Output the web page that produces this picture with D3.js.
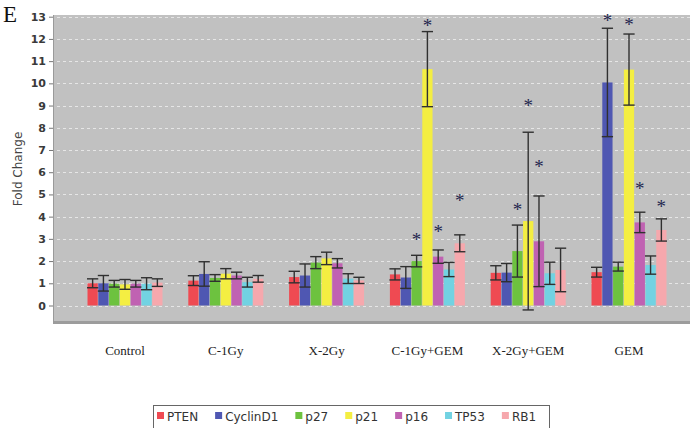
<!DOCTYPE html>
<html>
<head>
<meta charset="utf-8">
<script src="https://cdn.jsdelivr.net/npm/d3@7/dist/d3.min.js"></script>
<style>
  html, body { margin: 0; padding: 0; background: #ffffff; }
  svg { display: block; }
</style>
</head>
<body>
<svg id="chart" width="690" height="428"></svg>
<script>
// Treatment groups along the x axis
const groups = ["Control", "C-1Gy", "X-2Gy", "C-1Gy+GEM", "X-2Gy+GEM", "GEM"];
const groupLabels = ["Control", "C-1Gy", "X-2Gy", "C-1Gy+GEM", "X-2Gy+GEM", "GEM"];

// Genes (one bar per gene inside each group)
const genes = ["PTEN", "CyclinD1", "p27", "p21", "p16", "TP53", "RB1"];
const geneColors = ["#ef4a52", "#4f57b2", "#6dc23f", "#f4ee42", "#c062b2", "#72d2e2", "#f6a8ad"];

// Mean fold change per gene, in group order
const PTEN     = [1.00, 1.12, 1.28, 1.40, 1.47, 1.50];
const CyclinD1 = [1.00, 1.42, 1.35, 1.26, 1.48, 10.04];
const p27      = [0.98, 1.24, 1.93, 2.00, 2.45, 1.75];
const p21      = [0.95, 1.43, 2.12, 10.64, 3.80, 10.62];
const p16      = [0.98, 1.35, 1.90, 2.20, 2.89, 3.74];
const TP53     = [0.98, 1.05, 1.21, 1.62, 1.45, 1.82];
const RB1      = [1.03, 1.20, 1.13, 2.80, 1.60, 3.40];

// Error (± half range) per gene, in group order
const PTEN_err     = [0.20, 0.22, 0.26, 0.25, 0.32, 0.22];
const CyclinD1_err = [0.35, 0.55, 0.52, 0.49, 0.41, 2.44];
const p27_err      = [0.15, 0.15, 0.27, 0.26, 1.17, 0.20];
const p21_err      = [0.22, 0.23, 0.28, 1.69, 4.00, 1.60];
const p16_err      = [0.15, 0.15, 0.21, 0.30, 2.04, 0.46];
const TP53_err     = [0.27, 0.22, 0.22, 0.32, 0.50, 0.41];
const RB1_err      = [0.17, 0.15, 0.14, 0.38, 0.98, 0.50];

// Significance marks: group, gene, and the fold-change level of the mark
const starGroups = ["C-1Gy+GEM", "C-1Gy+GEM", "C-1Gy+GEM", "C-1Gy+GEM", "X-2Gy+GEM", "X-2Gy+GEM", "X-2Gy+GEM", "GEM", "GEM", "GEM", "GEM"];
const starGenes  = ["p27", "p21", "p16", "RB1", "p27", "p21", "p16", "CyclinD1", "p21", "p16", "RB1"];
const starLevels = [3.05, 12.67, 3.40, 4.80, 4.38, 9.08, 6.33, 12.90, 12.71, 5.35, 4.53];

// Y axis ticks
const yTicks = [0, 1, 2, 3, 4, 5, 6, 7, 8, 9, 10, 11, 12, 13];

const meansByGene = { PTEN, CyclinD1, p27, p21, p16, TP53, RB1 };
const errsByGene = { PTEN: PTEN_err, CyclinD1: CyclinD1_err, p27: p27_err, p21: p21_err, p16: p16_err, TP53: TP53_err, RB1: RB1_err };

const records = [];
groups.forEach((g, gi) => {
  genes.forEach((gene, ki) => {
    records.push({ group: g, gene, color: geneColors[ki], value: meansByGene[gene][gi], err: errsByGene[gene][gi] });
  });
});

const svg = d3.select("#chart");

// plot frame
const plot = { left: 53, right: 690, top: 15, bottom: 322 };

const x0 = d3.scaleBand().domain(groups).range([74.6, 679.4]).paddingInner(0.256).paddingOuter(0.128);
const x1 = d3.scaleBand().domain(genes).range([0, x0.bandwidth()]).paddingInner(0.05);
const y = d3.scaleLinear().domain([0, 13]).range([305.5, 16.7]);

// panel letter
svg.append("text")
  .attr("x", 3).attr("y", 22)
  .attr("font-family", "Liberation Serif, Times New Roman, serif")
  .attr("font-size", 23)
  .attr("fill", "#111")
  .text("E");

// gray plotting area
svg.append("rect")
  .attr("x", plot.left).attr("y", plot.top)
  .attr("width", plot.right - plot.left).attr("height", plot.bottom - plot.top)
  .attr("fill", "#c1c1c1");

// darker base strip under the plotting area
svg.append("rect")
  .attr("x", plot.left).attr("y", plot.bottom - 1)
  .attr("width", plot.right - plot.left).attr("height", 3)
  .attr("fill", "#9c9c9c");

// left edge of the plot
svg.append("line")
  .attr("x1", plot.left + 0.5).attr("x2", plot.left + 0.5)
  .attr("y1", plot.top).attr("y2", plot.bottom + 2)
  .attr("stroke", "#9a9a9a").attr("stroke-width", 1);

// dashed gridlines
svg.append("g")
  .selectAll("line")
  .data(yTicks)
  .join("line")
  .attr("x1", plot.left + 4).attr("x2", plot.right)
  .attr("y1", d => Math.round(y(d)) + 0.5).attr("y2", d => Math.round(y(d)) + 0.5)
  .attr("stroke", "#e6e6e6")
  .attr("stroke-width", 1)
  .attr("stroke-dasharray", "3,3");

// y axis ticks and labels
const yAxis = d3.axisLeft(y).tickValues(yTicks).tickSize(4).tickPadding(3).tickFormat(d3.format("d"));
const yAxisG = svg.append("g")
  .attr("transform", `translate(${plot.left},0)`)
  .call(yAxis);
yAxisG.select(".domain").remove();
yAxisG.selectAll(".tick line").attr("stroke", "#777");
yAxisG.selectAll(".tick text")
  .attr("font-family", "DejaVu Sans, Verdana, sans-serif")
  .attr("font-size", 11)
  .attr("font-weight", "bold")
  .attr("fill", "#3a3a3a");

// y axis title
svg.append("text")
  .attr("transform", "translate(22,169) rotate(-90)")
  .attr("text-anchor", "middle")
  .attr("font-family", "DejaVu Sans, Verdana, sans-serif")
  .attr("font-size", 12)
  .attr("fill", "#444")
  .text("Fold Change");

// bars
const groupG = svg.append("g")
  .selectAll("g")
  .data(groups)
  .join("g")
  .attr("transform", d => `translate(${x0(d)},0)`);

groupG.selectAll("rect")
  .data(g => records.filter(r => r.group === g))
  .join("rect")
  .attr("x", d => x1(d.gene))
  .attr("y", d => y(d.value))
  .attr("width", x1.bandwidth())
  .attr("height", d => y(0) - y(d.value))
  .attr("fill", d => d.color);

// error bars
const capHalf = x1.bandwidth() / 2 + 0.5;
const errG = groupG.selectAll("g.err")
  .data(g => records.filter(r => r.group === g))
  .join("g")
  .attr("class", "err")
  .attr("transform", d => `translate(${x1(d.gene) + x1.bandwidth() / 2},0)`)
  .attr("stroke", "#303030")
  .attr("stroke-width", 1.4);

errG.append("line")
  .attr("x1", 0).attr("x2", 0)
  .attr("y1", d => y(d.value + d.err)).attr("y2", d => y(d.value - d.err));
errG.append("line")
  .attr("x1", -capHalf).attr("x2", capHalf)
  .attr("y1", d => y(d.value + d.err)).attr("y2", d => y(d.value + d.err));
errG.append("line")
  .attr("x1", -capHalf).attr("x2", capHalf)
  .attr("y1", d => y(d.value - d.err)).attr("y2", d => y(d.value - d.err));

// significance asterisks
const stars = starGroups.map((g, i) => ({ group: g, gene: starGenes[i], level: starLevels[i] }));
svg.append("g")
  .selectAll("text")
  .data(stars)
  .join("text")
  .attr("x", d => x0(d.group) + x1(d.gene) + x1.bandwidth() / 2)
  .attr("y", d => y(d.level) + 8)
  .attr("text-anchor", "middle")
  .attr("font-family", "Liberation Serif, Times New Roman, serif")
  .attr("font-size", 19)
  .attr("fill", "#25274f")
  .text("*");

// group labels
svg.append("g")
  .selectAll("text")
  .data(groups)
  .join("text")
  .attr("x", d => x0(d) + x0.bandwidth() / 2)
  .attr("y", 355)
  .attr("text-anchor", "middle")
  .attr("font-family", "Liberation Serif, Times New Roman, serif")
  .attr("font-size", 13)
  .attr("fill", "#222")
  .text((d, i) => groupLabels[i]);

// legend
const legend = svg.append("g");
legend.append("rect")
  .attr("x", 153.5).attr("y", 405.5)
  .attr("width", 396).attr("height", 40)
  .attr("fill", "#fff")
  .attr("stroke", "#666")
  .attr("stroke-width", 1);

let lx = 157;
genes.forEach((gene, i) => {
  legend.append("rect")
    .attr("x", lx).attr("y", 412)
    .attr("width", 7).attr("height", 7)
    .attr("fill", geneColors[i]);
  const t = legend.append("text")
    .attr("x", lx + 10).attr("y", 420.5)
    .attr("font-family", "DejaVu Sans, Verdana, sans-serif")
    .attr("font-size", 12)
    .attr("fill", "#333")
    .text(gene);
  lx += 10 + t.node().getComputedTextLength() + 17;
});
</script>
</body>
</html>
